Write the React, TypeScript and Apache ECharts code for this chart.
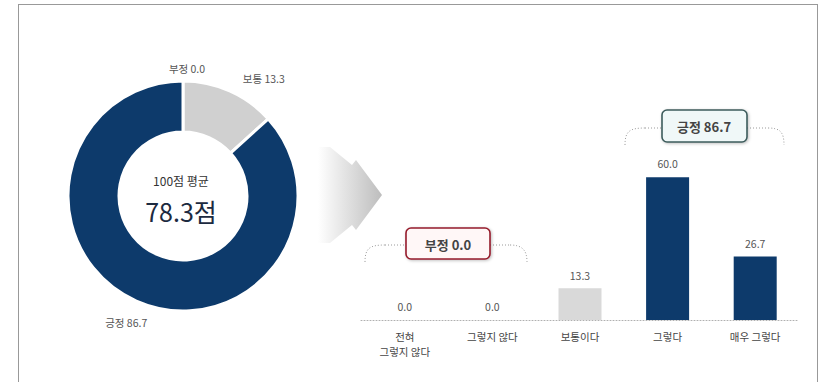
import React, { useEffect, useRef } from "react";
import * as echarts from "echarts";

const pieNames = ["부정", "보통", "긍정"];
const pieValues = [0.0, 13.3, 86.7];
const pieColors = ["#c8c8c8", "#d0d0d0", "#0d3a6b"];
const averageScore = 78.3;
const averageLabel = "100점 평균";

const barCategories = ["전혀\n그렇지 않다", "그렇지 않다", "보통이다", "그렇다", "매우 그렇다"];
const barValues = [0.0, 0.0, 13.3, 60.0, 26.7];
const barColors = ["#0d3a6b", "#0d3a6b", "#d9d9d9", "#0d3a6b", "#0d3a6b"];
const negativeLabel = "부정 0.0";
const positiveLabel = "긍정 86.7";

const FONT = "'Noto Sans CJK KR', 'Noto Sans', sans-serif";

export default function App() {
  const ref = useRef<HTMLDivElement>(null);
  useEffect(() => {
    if (!ref.current) return;
    const chart = echarts.init(ref.current, undefined, { renderer: "svg" });
    const braceStyle = { stroke: "#9a9a9a", lineWidth: 1, lineDash: [1, 2], fill: null };
    chart.setOption({
      animation: false,
      textStyle: { fontFamily: FONT },
      grid: { left: 361, right: 25, top: 82, bottom: 62 },
      xAxis: {
        type: "category",
        data: barCategories,
        axisLine: { lineStyle: { color: "#b0b0b0", type: [1, 2] } },
        axisTick: { show: false },
        axisLabel: { color: "#444", fontSize: 10.5, lineHeight: 15, margin: 9, fontFamily: FONT },
      },
      yAxis: { type: "value", min: 0, max: 100, show: false, splitLine: { show: false } },
      series: [
        {
          type: "pie",
          center: [183, 196],
          radius: [64, 115],
          startAngle: 90,
          clockwise: true,
          itemStyle: { borderColor: "#fff", borderWidth: 3 },
          label: {
            show: true,
            position: "outside",
            color: "#555",
            fontSize: 10.5,
            fontFamily: FONT,
            formatter: (p: any) => `${p.name} ${p.value.toFixed(1)}`,
          },
          labelLine: { show: false, length: 10, length2: 4 },
          labelLayout: (p: any) => {
            if (p.dataIndex === 0) return { align: "center", dx: 13, dy: -3 };
            if (p.dataIndex === 1) return { dy: -3 };
            return { dx: 24, dy: 12 };
          },
          data: pieNames.map((n, i) => ({ name: n, value: pieValues[i], itemStyle: { color: pieColors[i] } })),
        },
        {
          type: "bar",
          barWidth: 43,
          data: barValues.map((v, i) => ({ value: v, itemStyle: { color: barColors[i] } })),
          label: {
            show: true,
            position: "top",
            distance: 8,
            color: "#555",
            fontSize: 10.5,
            fontFamily: FONT,
            formatter: (p: any) => p.value.toFixed(1),
          },
        },
      ],
      graphic: [
        {
          type: "rect",
          shape: { x: 18.5, y: 4.5, width: 799, height: 420 },
          style: { fill: null, stroke: "#333", lineWidth: 1, lineDash: [1, 1] },
          silent: true,
        },
        {
          type: "text",
          x: 181,
          y: 180,
          style: { text: averageLabel, fontSize: 12, fill: "#333", align: "center", verticalAlign: "middle", fontFamily: FONT },
        },
        {
          type: "text",
          x: 181,
          y: 211,
          style: { text: `${averageScore.toFixed(1)}점`, fontSize: 25, fill: "#1c2a40", align: "center", verticalAlign: "middle", fontFamily: FONT },
        },
        {
          type: "polygon",
          shape: {
            points: [
              [318, 147], [330, 147], [352, 165], [356, 160], [382, 195],
              [356, 230], [352, 225], [330, 243], [318, 243],
            ],
          },
          style: {
            fill: new echarts.graphic.LinearGradient(0, 0, 1, 0, [
              { offset: 0, color: "rgba(255,255,255,1)" },
              { offset: 1, color: "#bdbdbd" },
            ]),
          },
          silent: true,
        },
        { type: "bezierCurve", shape: { x1: 365, y1: 262, cpx1: 365, cpy1: 248, cpx2: 370, cpy2: 245, x2: 385, y2: 245 }, style: braceStyle },
        { type: "line", shape: { x1: 385, y1: 245, x2: 510, y2: 245 }, style: braceStyle },
        { type: "bezierCurve", shape: { x1: 510, y1: 245, cpx1: 522, cpy1: 245, cpx2: 527, cpy2: 250, x2: 527, y2: 262 }, style: braceStyle },
        {
          type: "rect",
          shape: { x: 406, y: 228, width: 84, height: 31, r: 5 },
          style: { fill: "#fff7f7", stroke: "#951b2b", lineWidth: 1.6, shadowBlur: 3, shadowColor: "rgba(0,0,0,0.25)", shadowOffsetX: 1, shadowOffsetY: 1 },
        },
        {
          type: "text",
          x: 448,
          y: 244,
          style: { text: negativeLabel, fontSize: 13, fontWeight: "bold", fill: "#444", align: "center", verticalAlign: "middle", fontFamily: FONT },
        },
        { type: "bezierCurve", shape: { x1: 625, y1: 145, cpx1: 625, cpy1: 131, cpx2: 630, cpy2: 128, x2: 645, y2: 128 }, style: braceStyle },
        { type: "line", shape: { x1: 645, y1: 128, x2: 768, y2: 128 }, style: braceStyle },
        { type: "bezierCurve", shape: { x1: 768, y1: 128, cpx1: 780, cpy1: 128, cpx2: 784, cpy2: 132, x2: 784, y2: 145 }, style: braceStyle },
        {
          type: "rect",
          shape: { x: 662, y: 110, width: 85, height: 32, r: 5 },
          style: { fill: "#f0f8f8", stroke: "#3d5c5c", lineWidth: 1.6, shadowBlur: 3, shadowColor: "rgba(0,0,0,0.25)", shadowOffsetX: 1, shadowOffsetY: 1 },
        },
        {
          type: "text",
          x: 704,
          y: 126,
          style: { text: positiveLabel, fontSize: 13, fontWeight: "bold", fill: "#444", align: "center", verticalAlign: "middle", fontFamily: FONT },
        },
      ],
    });
    return () => chart.dispose();
  }, []);
  return <div ref={ref} style={{ position: "absolute", left: 0, top: 0, width: 824, height: 382 }} />;
}
